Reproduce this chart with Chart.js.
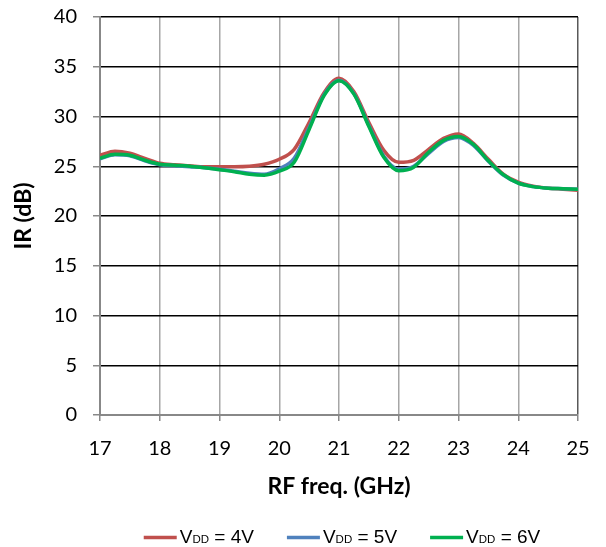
<!DOCTYPE html>
<html>
<head>
<meta charset="utf-8">
<script src="https://cdn.jsdelivr.net/npm/chart.js@4/dist/chart.umd.min.js"></script>
<style>
html,body{margin:0;padding:0;background:#fff;}
#wrap{width:606px;height:547px;}
</style>
</head>
<body>
<div id="wrap"><canvas id="c" width="606" height="547"></canvas></div>
<script>
const freqs = [17,17.25,17.5,17.75,18,18.25,18.5,18.75,19,19.25,19.5,19.75,20,20.25,20.5,20.75,21,21.25,21.5,21.75,22,22.25,22.5,22.75,23,23.25,23.5,23.75,24,24.25,24.5,24.75,25];
const ir4V = [26.1,26.5,26.3,25.8,25.3,25.15,25.05,24.95,24.95,24.95,25.0,25.2,25.7,26.7,29.4,32.4,33.85,32.5,29.4,26.6,25.4,25.6,26.7,27.8,28.25,27.3,25.7,24.2,23.4,23.0,22.8,22.7,22.6];
const ir5V = [25.75,26.15,26.05,25.55,25.15,25.05,24.95,24.85,24.7,24.5,24.3,24.2,24.75,25.8,28.9,32.2,33.65,32.3,29.1,26.0,24.7,25.0,26.3,27.5,27.9,27.1,25.5,24.1,23.3,22.95,22.8,22.75,22.7];
const ir6V = [25.8,26.2,26.1,25.6,25.2,25.1,25.0,24.85,24.65,24.45,24.2,24.1,24.5,25.4,28.7,32.1,33.6,32.25,29.0,25.9,24.55,24.9,26.4,27.6,28.0,27.2,25.55,24.15,23.3,22.95,22.8,22.75,22.7];
const seriesLabels = ["4V","5V","6V"];
const xTicks = [17,18,19,20,21,22,23,24,25];
const yTicks = [0,5,10,15,20,25,30,35,40];

const colors = ["#C0504D","#4F81BD","#00B050"];
const toPts = arr => arr.map((v,i)=>({x:freqs[i], y:v}));

const legendPlugin = {
  id:'vddLegend',
  afterDraw(chart){
    const ctx = chart.ctx;
    const ca = chart.chartArea;
    const big = '19px "Liberation Sans", Arial, sans-serif';
    const small = '11.5px "Liberation Sans", Arial, sans-serif';
    const lineLen = 33, gapLT = 3, itemGap = 33;
    const items = chart.data.datasets.map((ds,i)=>{
      ctx.font = big; const wV = ctx.measureText('V').width;
      const rest = ' = ' + seriesLabels[i];
      const wR = ctx.measureText(rest).width;
      ctx.font = small; const wD = ctx.measureText('DD').width;
      return {color:ds.borderColor, rest, wV, wD, wR, w: lineLen+gapLT+wV+wD+wR};
    });
    const total = items.reduce((s,it)=>s+it.w,0) + itemGap*(items.length-1);
    let x = (ca.left+ca.right)/2 - total/2 + 3;
    const baseY = 543, lineY = 537.5;
    ctx.save();
    items.forEach(it=>{
      ctx.strokeStyle = it.color; ctx.lineWidth = 3.5; ctx.lineCap='butt';
      ctx.beginPath(); ctx.moveTo(x,lineY); ctx.lineTo(x+lineLen,lineY); ctx.stroke();
      let tx = x+lineLen+gapLT;
      ctx.fillStyle = '#000'; ctx.textBaseline='alphabetic'; ctx.textAlign='left';
      ctx.font = big; ctx.fillText('V',tx,baseY); tx += it.wV;
      ctx.font = small; ctx.fillText('DD',tx,baseY); tx += it.wD;
      ctx.font = big; ctx.fillText(it.rest,tx,baseY);
      x += it.w + itemGap;
    });
    ctx.restore();
  }
};

const tickFont = {family:'Lato, Carlito, sans-serif', size:20};
const titleFont = {family:'Lato, Carlito, sans-serif', size:23, weight:'bold'};

new Chart(document.getElementById('c'),{
  type:'line',
  data:{
    datasets:[
      {label:'VDD = 4V', data:toPts(ir4V), borderColor:colors[0], backgroundColor:colors[0], borderWidth:3.5, pointRadius:0, tension:0.4, cubicInterpolationMode:'monotone', order:3},
      {label:'VDD = 5V', data:toPts(ir5V), borderColor:colors[1], backgroundColor:colors[1], borderWidth:3.5, pointRadius:0, tension:0.4, cubicInterpolationMode:'monotone', order:2},
      {label:'VDD = 6V', data:toPts(ir6V), borderColor:colors[2], backgroundColor:colors[2], borderWidth:3.5, pointRadius:0, tension:0.4, cubicInterpolationMode:'monotone', order:1}
    ]
  },
  options:{
    responsive:false,
    animation:false,
    events:[],
    layout:{padding:{left:0,right:28,top:0,bottom:47}},
    plugins:{legend:{display:false}, tooltip:{enabled:false}},
    scales:{
      x:{
        type:'linear', min:17, max:25,
        afterBuildTicks: s => { s.ticks = xTicks.map(v=>({value:v})); },
        afterFit: s => { s.height = 85; },
        grid:{
          color: c => (c.tick && c.tick.value===25) ? '#595959' : '#A6A6A6',
          lineWidth: 1.5, tickLength:6, tickColor:'#888'
        },
        border:{color:'#888', width:2},
        ticks:{color:'#000', font:tickFont, padding:16, maxRotation:0},
        title:{display:true, text:'RF freq. (GHz)', color:'#000', font:titleFont, padding:{top:0,bottom:0}}
      },
      y:{
        type:'linear', min:0, max:40,
        afterBuildTicks: s => { s.ticks = yTicks.map(v=>({value:v})); },
        afterFit: s => { s.width = 100; s.paddingTop = 17; s.paddingBottom = 0; },
        grid:{
          color: c => (c.tick && c.tick.value===0) ? '#888' : '#000',
          lineWidth: 1.5, tickLength:7, tickColor:'#888'
        },
        border:{color:'#888', width:2},
        ticks:{color:'#000', font:tickFont, padding:16},
        title:{display:true, text:'IR (dB)', color:'#000', font:titleFont, padding:{top:10,bottom:0}}
      }
    }
  },
  plugins:[legendPlugin]
});
</script>
</body>
</html>
